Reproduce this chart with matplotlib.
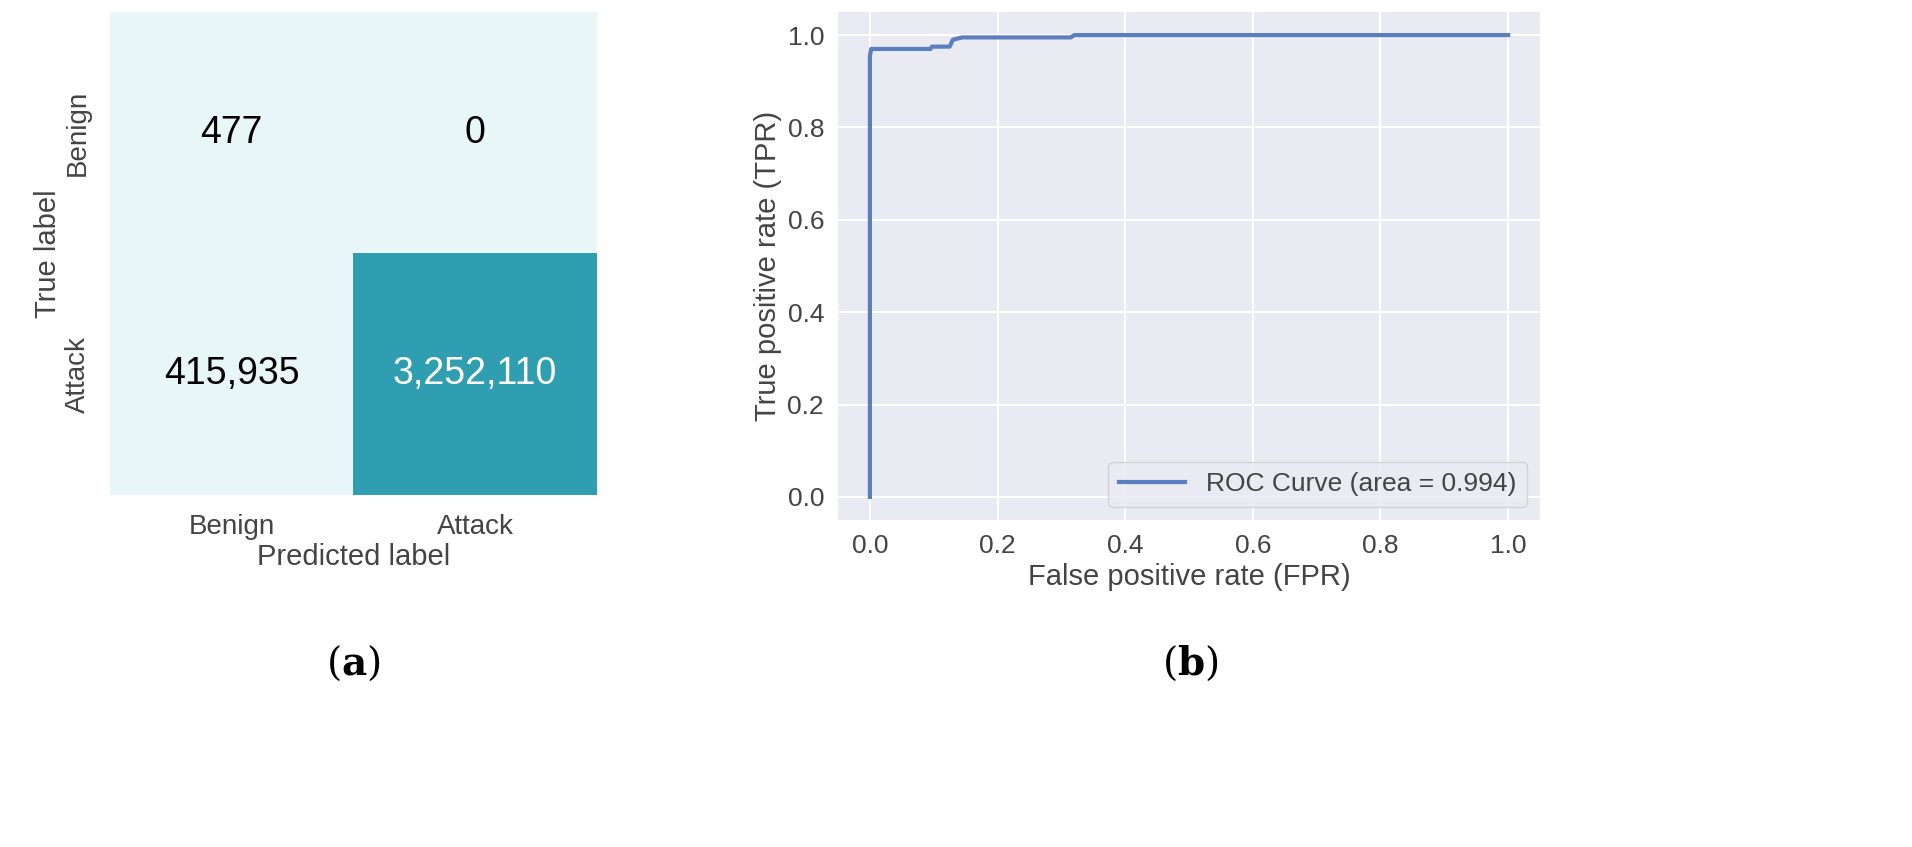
import matplotlib.pyplot as plt
import numpy as np
from matplotlib.colors import ListedColormap

plt.rcParams["font.family"] = ["Liberation Sans", "DejaVu Sans"]
plt.rcParams["mathtext.fontset"] = "dejavuserif"

classes = ["Benign", "Attack"]
cm = np.array([[477, 0], [415935, 3252110]])
fpr = [0.0, 0.0, 0.002, 0.095, 0.097, 0.125, 0.13, 0.145, 0.315, 0.32, 1.0]
tpr = [0.0, 0.955, 0.97, 0.97, 0.975, 0.975, 0.99, 0.995, 0.995, 1.0, 1.0]
auc = 0.994

fig = plt.figure(figsize=(19.12, 8.47), dpi=100)
txt = "#444444"

# (a) confusion matrix
ax1 = fig.add_axes([110 / 1912, 1 - 495 / 847, 487 / 1912, 483 / 847])
colors = np.where(cm > cm.max() / 2, 1, 0)
ax1.imshow(colors, cmap=ListedColormap(["#e9f6f8", "#2f9eb0"]), aspect="auto")
for i in range(2):
    for j in range(2):
        ax1.text(j, i, f"{cm[i, j]:,}", ha="center", va="center", fontsize=27,
                 color="white" if colors[i, j] else "black")
ax1.set_xticks(range(2), classes, fontsize=20, color=txt)
ax1.set_yticks(range(2), classes, fontsize=20, color=txt, rotation=90, va="center")
ax1.tick_params(length=0, pad=14)
ax1.set_xlabel("Predicted label", fontsize=21, color=txt, labelpad=2)
ax1.set_ylabel("True label", fontsize=21, color=txt, labelpad=2)
for s in ax1.spines.values():
    s.set_visible(False)

# (b) ROC curve
ax2 = fig.add_axes([838 / 1912, 1 - 520 / 847, 702 / 1912, 508 / 847])
ax2.set_facecolor("#eaeaf2")
ax2.grid(True, color="white", linewidth=1.5)
ax2.set_axisbelow(True)
for s in ax2.spines.values():
    s.set_visible(False)
ax2.plot(fpr, tpr, color="#5a7fbf", linewidth=3, label=f"ROC Curve (area = {auc})")
ax2.set_xlim(-0.05, 1.05)
ax2.set_ylim(-0.05, 1.05)
ticks = np.linspace(0, 1, 6)
ax2.set_xticks(ticks, [f"{t:.1f}" for t in ticks])
ax2.set_yticks(ticks, [f"{t:.1f}" for t in ticks])
ax2.tick_params(length=0, labelsize=19, labelcolor=txt, pad=10)
ax2.set_xlabel("False positive rate (FPR)", fontsize=21, color=txt)
ax2.set_ylabel("True positive rate (TPR)", fontsize=21, color=txt)
leg = ax2.legend(loc="lower right", fontsize=19, facecolor="#eaeaf2", edgecolor="#cccccc",
                 handlelength=2.5)
for t in leg.get_texts():
    t.set_color(txt)

fig.text(353 / 1912, 1 - 663 / 847, r"($\mathbf{a}$)", fontsize=28, family="DejaVu Serif",
         ha="center", va="center")
fig.text(1190 / 1912, 1 - 663 / 847, r"($\mathbf{b}$)", fontsize=28, family="DejaVu Serif",
         ha="center", va="center")

fig.savefig("out.png", dpi=100, facecolor="white")
